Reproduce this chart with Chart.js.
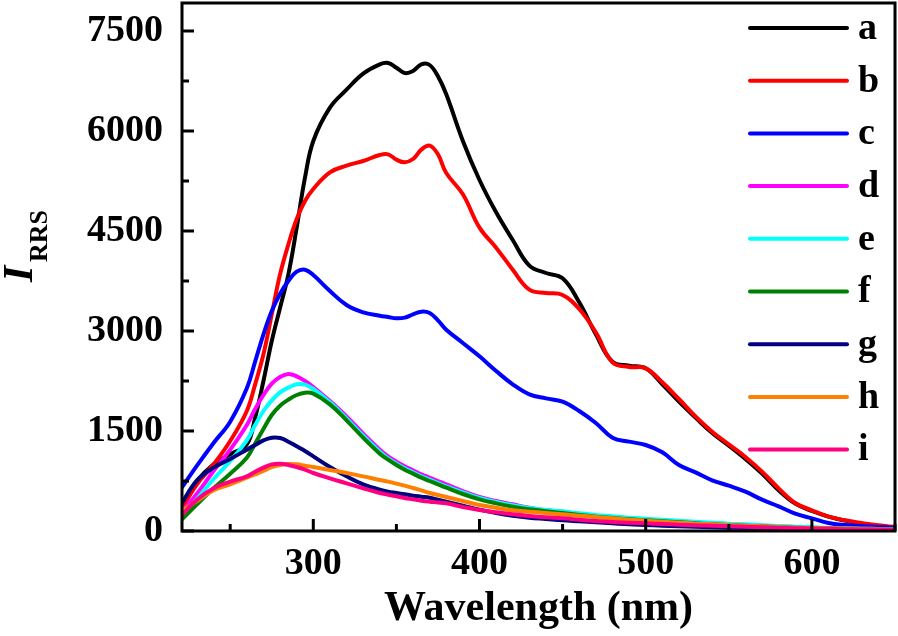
<!DOCTYPE html>
<html>
<head>
<meta charset="utf-8">
<script src="https://cdn.jsdelivr.net/npm/chart.js@4.4.0/dist/chart.umd.min.js"></script>
<style>
  html, body { margin: 0; padding: 0; background: #fff; }
  #wrap { width: 898px; height: 636px; }
</style>
</head>
<body>
<div id="wrap"><canvas id="rrs-chart" width="898" height="636"></canvas></div>
<script>
// wavelength axis (nm), shared by every curve
const wavelengths = [220, 230, 240, 250, 260, 265, 270, 275, 280, 285, 290, 295, 300, 310, 320, 330, 340, 345, 350, 355,
	360, 365, 370, 375, 380, 390, 400, 410, 420, 430, 440, 450, 460, 470, 480, 490, 500, 510, 520, 530,
	540, 550, 560, 570, 580, 590, 600, 610, 620, 630, 640, 650];

const seriesA = [350, 750, 1000, 1150, 1300, 1700, 2250, 2850, 3350, 3850, 4550, 5300, 5850, 6350, 6620, 6860, 7000, 7020, 6950, 6870,
	6900, 7000, 6990, 6820, 6550, 5850, 5265, 4780, 4365, 3980, 3870, 3790, 3430, 2950, 2540, 2480, 2440, 2200, 1940, 1700,
	1470, 1280, 1080, 860, 610, 410, 300, 215, 155, 110, 75, 50];
const seriesB = [300, 700, 1000, 1350, 1800, 2200, 2650, 3250, 3850, 4300, 4680, 4950, 5130, 5380, 5480, 5550, 5640, 5650, 5570, 5530,
	5580, 5720, 5780, 5650, 5370, 5050, 4550, 4250, 3920, 3620, 3570, 3540, 3330, 2980, 2530, 2460, 2440, 2230, 1980, 1720,
	1490, 1300, 1110, 890, 640, 420, 310, 215, 160, 120, 85, 60];
const seriesC = [620, 980, 1320, 1640, 2140, 2540, 2950, 3300, 3560, 3750, 3890, 3920, 3840, 3600, 3390, 3280, 3230, 3210, 3190, 3200,
	3250, 3290, 3270, 3160, 3020, 2820, 2620, 2400, 2200, 2050, 1990, 1940, 1800, 1620, 1400, 1340, 1290, 1180, 990, 880,
	760, 680, 590, 470, 370, 260, 190, 120, 90, 75, 60, 50];
const seriesD = [260, 560, 900, 1220, 1590, 1830, 2040, 2210, 2310, 2355, 2320, 2250, 2160, 1950, 1720, 1460, 1220, 1120, 1040, 970,
	910, 850, 800, 750, 700, 600, 510, 450, 400, 350, 310, 290, 250, 220, 200, 180, 165, 150, 140, 125,
	110, 100, 90, 80, 70, 60, 50, 45, 40, 35, 30, 25];
const seriesE = [200, 480, 780, 1050, 1360, 1590, 1800, 1960, 2080, 2150, 2200, 2195, 2130, 1930, 1690, 1430, 1190, 1090, 1010, 940,
	880, 820, 770, 720, 670, 580, 495, 435, 385, 345, 315, 295, 265, 240, 220, 200, 185, 170, 155, 140,
	125, 110, 100, 85, 75, 65, 55, 45, 40, 35, 30, 25];
const seriesF = [150, 400, 640, 860, 1100, 1310, 1530, 1740, 1880, 1970, 2040, 2075, 2060, 1900, 1660, 1400, 1160, 1070, 990, 920,
	860, 800, 750, 700, 650, 555, 475, 415, 365, 325, 295, 270, 240, 215, 195, 175, 160, 145, 130, 115,
	100, 90, 80, 70, 60, 50, 45, 40, 35, 30, 25, 20];
const seriesG = [380, 760, 950, 1080, 1220, 1290, 1360, 1400, 1395, 1340, 1270, 1200, 1120, 960, 820, 700, 620, 590, 570, 550,
	530, 515, 500, 470, 440, 380, 320, 270, 230, 200, 180, 160, 145, 130, 115, 100, 90, 80, 70, 62,
	55, 50, 45, 40, 35, 30, 28, 25, 22, 20, 18, 15];
const seriesH = [290, 450, 610, 700, 800, 850, 900, 960, 990, 1005, 1000, 980, 960, 915, 870, 820, 765, 740, 710, 680,
	645, 610, 570, 540, 510, 450, 390, 350, 310, 290, 270, 250, 230, 210, 190, 170, 155, 140, 125, 110,
	100, 90, 80, 70, 60, 50, 45, 40, 35, 30, 25, 20];
const seriesI = [215, 470, 640, 740, 820, 890, 950, 1000, 1010, 990, 960, 920, 870, 790, 715, 640, 570, 545, 520, 495,
	475, 455, 440, 428, 415, 360, 315, 280, 250, 225, 205, 190, 170, 150, 135, 125, 115, 105, 95, 85,
	78, 70, 62, 55, 48, 42, 38, 33, 28, 24, 20, 17];

const seriesNames = ['a', 'b', 'c', 'd', 'e', 'f', 'g', 'h', 'i'];
const allSeries = [seriesA, seriesB, seriesC, seriesD, seriesE, seriesF, seriesG, seriesH, seriesI];
const lineColors = ['#000000', '#ff0000', '#0000ff', '#ff00ff', '#00ffff', '#008000', '#000080', '#ff8000', '#ff0080'];

const xTicks = [300, 400, 500, 600];
const yTicks = [0, 1500, 3000, 4500, 6000, 7500];

const serif = "'Liberation Serif', 'Times New Roman', serif";

// frame, inward tick marks, y title with subscript, and the legend inside the plot
const decorations = {
	id: 'decorations',
	afterDraw(chart) {
		const { ctx, chartArea: area, scales: { x, y } } = chart;
		ctx.save();
		ctx.strokeStyle = '#000';
		ctx.lineWidth = 3;
		ctx.lineCap = 'butt';

		const xStep = xTicks[1] - xTicks[0];
		const yStep = yTicks[1] - yTicks[0];
		ctx.beginPath();
		xTicks.forEach(v => {
			const px = x.getPixelForValue(v);
			ctx.moveTo(px, area.bottom); ctx.lineTo(px, area.bottom - 12);
		});
		for (let v = xTicks[0] - xStep / 2; v <= x.max; v += xStep) {
			const px = x.getPixelForValue(v);
			ctx.moveTo(px, area.bottom); ctx.lineTo(px, area.bottom - 7);
		}
		yTicks.forEach(v => {
			const py = y.getPixelForValue(v);
			ctx.moveTo(area.left, py); ctx.lineTo(area.left + 12, py);
		});
		for (let v = yTicks[0] + yStep / 2; v <= y.max; v += yStep) {
			const py = y.getPixelForValue(v);
			ctx.moveTo(area.left, py); ctx.lineTo(area.left + 7, py);
		}
		ctx.stroke();
		ctx.strokeRect(area.left, area.top, area.right - area.left, area.bottom - area.top);

		// y axis title: I with subscript RRS
		ctx.fillStyle = '#000';
		ctx.translate(32, 282);
		ctx.rotate(-Math.PI / 2);
		ctx.textBaseline = 'alphabetic';
		ctx.textAlign = 'left';
		ctx.font = 'italic bold 42px ' + serif;
		ctx.fillText('I', 0, 0);
		ctx.font = 'bold 26px ' + serif;
		ctx.fillText('RRS', 20, 15);
		ctx.setTransform(1, 0, 0, 1, 0, 0);

		// legend
		ctx.font = 'bold 38px ' + serif;
		ctx.textBaseline = 'middle';
		ctx.lineWidth = 4;
		ctx.lineCap = 'round';
		chart.data.datasets.forEach((ds, k) => {
			const ly = 28 + k * 52.7;
			ctx.strokeStyle = ds.borderColor;
			ctx.beginPath();
			ctx.moveTo(750, ly); ctx.lineTo(847, ly);
			ctx.stroke();
			ctx.fillText(ds.label, 858, ly + 1);
		});
		ctx.restore();
	}
};

const ctx = document.getElementById('rrs-chart').getContext('2d');
new Chart(ctx, {
	type: 'line',
	data: {
		datasets: allSeries.map((vals, k) => ({
			label: seriesNames[k],
			data: wavelengths.map((w, j) => ({ x: w, y: vals[j] })),
			borderColor: lineColors[k],
			borderWidth: 4,
			borderCapStyle: 'round',
			borderJoinStyle: 'round',
			pointRadius: 0,
			tension: 0.4,
			fill: false,
			order: -k
		}))
	},
	options: {
		responsive: false,
		devicePixelRatio: 1,
		animation: false,
		layout: { padding: { top: 3, right: 3, left: 0, bottom: 0 } },
		plugins: {
			legend: { display: false },
			tooltip: { enabled: false }
		},
		scales: {
			x: {
				type: 'linear',
				min: 221,
				max: 650,
				afterBuildTicks: s => { s.ticks = xTicks.map(v => ({ value: v })); },
				afterFit: s => { s.height = 105; s.paddingLeft = 0; s.paddingRight = 0; },
				grid: { display: false, drawTicks: false },
				border: { display: false },
				ticks: {
					padding: 10,
					color: '#000',
					callback: v => String(v),
					font: { family: serif, size: 38, weight: 'bold' }
				},
				title: {
					display: true,
					text: 'Wavelength (nm)',
					color: '#000',
					padding: { top: 0, bottom: 2 },
					font: { family: serif, size: 42, weight: 'bold' }
				}
			},
			y: {
				min: 0,
				max: 7920,
				afterBuildTicks: s => { s.ticks = yTicks.map(v => ({ value: v })); },
				afterFit: s => { s.width = 182; s.paddingTop = 0; s.paddingBottom = 0; },
				grid: { display: false, drawTicks: false },
				border: { display: false },
				ticks: {
					padding: 19,
					color: '#000',
					callback: v => String(v),
					font: { family: serif, size: 38, weight: 'bold' }
				}
			}
		}
	},
	plugins: [decorations]
});
</script>
</body>
</html>
